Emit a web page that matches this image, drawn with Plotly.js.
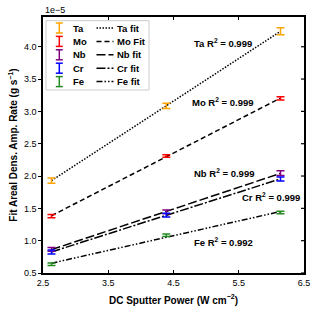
<!DOCTYPE html>
<html>
<head>
<meta charset="utf-8">
<script src="https://cdn.plot.ly/plotly-3.0.1.min.js"></script>
<style>html,body{margin:0;padding:0;background:#fff;}#chart{width:318px;height:314px;}</style>
</head>
<body>
<div id="chart"></div>
<script>
// ---- data (y values in units of 1e-5 g/s) ----
const power = [2.63, 4.39, 6.14];
const names = ["Ta", "Mo", "Nb", "Cr", "Fe"];
const fitNames = ["Ta fit", "Mo Fit", "Nb fit", "Cr fit", "Fe fit"];
const Ta = [1.93, 3.085, 4.24];
const Mo = [1.38, 2.31, 3.20];
const Nb = [0.865, 1.445, 2.045];
const Cr = [0.825, 1.395, 1.955];
const Fe = [0.635, 1.085, 1.435];
const TaErr = [0.04, 0.04, 0.055];
const MoErr = [0.025, 0.02, 0.025];
const NbErr = [0.03, 0.03, 0.035];
const CrErr = [0.03, 0.03, 0.03];
const FeErr = [0.02, 0.02, 0.02];
const r2Labels = ["Ta R<sup>2</sup> = 0.999", "Mo R<sup>2</sup> = 0.999", "Nb R<sup>2</sup> = 0.999", "Cr R<sup>2</sup> = 0.999", "Fe R<sup>2</sup> = 0.992"];
const r2X = [5.26, 5.26, 5.27, 5.99, 5.26];
const r2Y = [4.06, 3.14, 2.04, 1.67, 0.975];
const xTicks = [2.5, 3.5, 4.5, 5.5, 6.5];
const yTicks = [0.5, 1.0, 1.5, 2.0, 2.5, 3.0, 3.5, 4.0];

const series = [Ta, Mo, Nb, Cr, Fe];
const errs = [TaErr, MoErr, NbErr, CrErr, FeErr];
const colors = ["#FFA500", "#FF0000", "#800080", "#0000FF", "#228B22"];
const dashes = ["1.5px,1.5px", "5px,3px", "9px,3px", "9px,2px,2px,2px", "6px,2px,1.5px,2px,1.5px,2px"];

function linfit(x, y) {
  const n = x.length;
  const mx = x.reduce((a, b) => a + b, 0) / n;
  const my = y.reduce((a, b) => a + b, 0) / n;
  let sxy = 0, sxx = 0;
  for (let i = 0; i < n; i++) { sxy += (x[i] - mx) * (y[i] - my); sxx += (x[i] - mx) ** 2; }
  const m = sxy / sxx;
  return { m: m, b: my - m * mx };
}

const traces = [];
series.forEach((s, i) => {
  const f = linfit(power, s);
  const xf = [power[0], power[power.length - 1]];
  traces.push({
    x: xf, y: xf.map(v => f.m * v + f.b), mode: "lines", showlegend: false,
    line: { color: "black", width: 1.5, dash: dashes[i] }, hoverinfo: "skip"
  });
});
series.forEach((s, i) => {
  traces.push({
    x: power, y: s, mode: "markers", showlegend: false,
    marker: { size: 1, color: colors[i], opacity: 0 },
    error_y: { type: "data", array: errs[i], visible: true, color: colors[i], thickness: 1.5, width: 4 }
  });
});

const L = 43, R = 14, T = 17, B = 41, W = 318, H = 314;
const pw = W - L - R, ph = H - T - B;
const px = x => (x - L) / pw;
const py = y => (H - B - y) / ph;

const FAM = "Liberation Sans, Arial, sans-serif";
const bold = { family: FAM, size: 9.5, color: "black" };

const annotations = r2Labels.map((t, i) => ({
  x: r2X[i], y: r2Y[i], xref: "x", yref: "y", text: "<b>" + t + "</b>", showarrow: false,
  font: bold, xanchor: "center", yanchor: "middle"
}));
annotations.push({ x: px(43), y: py(10), xref: "paper", yref: "paper", text: "1e\u22125", showarrow: false,
  xanchor: "left", yanchor: "middle", font: { family: FAM, size: 9, color: "black" } });

const shapes = [];
// inward ticks on the right-hand frame
yTicks.forEach(v => {
  shapes.push({ type: "line", xref: "paper", yref: "y", x0: 1, x1: 1 - 3 / pw, y0: v, y1: v, line: { color: "black", width: 1.2 } });
});
// legend box
shapes.push({ type: "rect", xref: "paper", yref: "paper", x0: px(46), x1: px(149), y0: py(20.7), y1: py(90),
  line: { color: "#cccccc", width: 1 }, fillcolor: "white", layer: "above" });
names.forEach((n, i) => {
  const yc = 28 + i * 13.4;
  const xc = 59.3;
  const c = colors[i];
  shapes.push({ type: "line", xref: "paper", yref: "paper", x0: px(xc), x1: px(xc), y0: py(yc - 5), y1: py(yc + 5), line: { color: c, width: 1.5 }, layer: "above" });
  shapes.push({ type: "line", xref: "paper", yref: "paper", x0: px(xc - 3.5), x1: px(xc + 3.5), y0: py(yc - 5), y1: py(yc - 5), line: { color: c, width: 1.5 }, layer: "above" });
  shapes.push({ type: "line", xref: "paper", yref: "paper", x0: px(xc - 3.5), x1: px(xc + 3.5), y0: py(yc + 5), y1: py(yc + 5), line: { color: c, width: 1.5 }, layer: "above" });
  shapes.push({ type: "line", xref: "paper", yref: "paper", x0: px(96.5), x1: px(113.5), y0: py(yc), y1: py(yc), line: { color: "black", width: 1.5, dash: dashes[i] }, layer: "above" });
  annotations.push({ x: px(71), y: py(yc), xref: "paper", yref: "paper", text: "<b>" + n + "</b>", showarrow: false, xanchor: "left", yanchor: "middle", font: bold });
  annotations.push({ x: px(115), y: py(yc), xref: "paper", yref: "paper", text: "<b>" + fitNames[i] + "</b>", showarrow: false, xanchor: "left", yanchor: "middle", font: bold });
});

const xr = [2.5, 6.5], yr = [0.5, 4.46];
const tickFont = { family: FAM, size: 9, color: "black" };
const layout = {
  width: W, height: H,
  margin: { l: L, r: R, t: T, b: B, pad: 0 },
  paper_bgcolor: "white", plot_bgcolor: "white",
  showlegend: false,
  font: { family: FAM, color: "black" },
  xaxis: {
    range: xr, tickvals: xTicks, ticktext: xTicks.map(v => v.toFixed(1)),
    ticks: "inside", ticklen: 3, tickwidth: 1.2, tickcolor: "black",
    showline: true, linecolor: "black", linewidth: 1.5, mirror: "ticks", showgrid: false, zeroline: false,
    tickfont: tickFont,
    title: { text: "<b>DC Sputter Power (W cm<sup>\u22122</sup>)</b>", font: { family: FAM, size: 10, color: "black" }, standoff: 10 }
  },
  yaxis: {
    range: yr, tickvals: yTicks, ticktext: yTicks.map(v => v.toFixed(1)),
    ticks: "outside", ticklen: 3, tickwidth: 1.2, tickcolor: "black",
    showline: true, linecolor: "black", linewidth: 1.5, mirror: true, showgrid: false, zeroline: false,
    tickfont: tickFont,
    title: { text: "<b>Fit Areal Dens. Amp. Rate (g s<sup>\u22121</sup>)</b>", font: { family: FAM, size: 10, color: "black" }, standoff: 4 }
  },
  annotations: annotations,
  shapes: shapes
};

Plotly.newPlot("chart", traces, layout, { displayModeBar: false });
</script>
</body>
</html>
